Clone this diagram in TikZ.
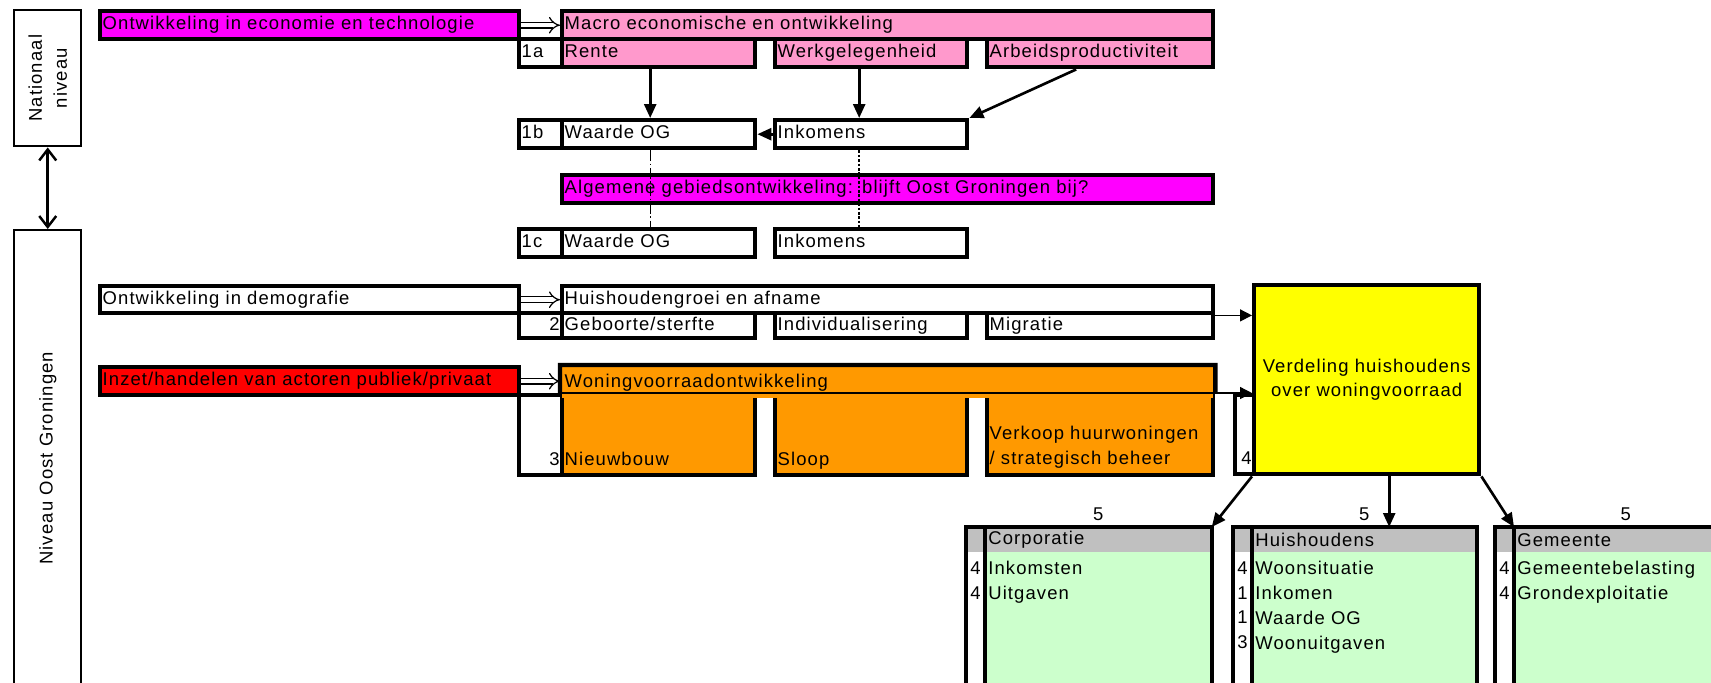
\documentclass[tikz,border=0pt]{standalone}
\usepackage{fontspec}
\setmainfont{Liberation Sans}[LetterSpace=6]
\usepackage{tikz}
\usetikzlibrary{arrows.meta}
\definecolor{mymagenta}{HTML}{FF00FF}
\definecolor{myroze}{HTML}{FF99CC}
\definecolor{myrood}{HTML}{FF0000}
\definecolor{myoranje}{HTML}{FF9900}
\definecolor{mygeel}{HTML}{FFFF00}
\definecolor{mygroen}{HTML}{CCFFCC}
\definecolor{mygrijs}{HTML}{C0C0C0}
\tikzset{
  cel/.style={draw, line width=2.5pt, anchor=north west, inner xsep=0.05cm, inner ysep=0pt, align=left, text height=0.27cm, text depth=0.08cm},
  geelvak/.style={draw, line width=2.5pt, anchor=north west, inner sep=0pt, align=center, fill=mygeel},
  zijkant/.style={draw, line width=1.4pt, anchor=north west, inner sep=0pt},
  groep/.style={anchor=north west, inner sep=0pt, minimum height=3.46cm},
  rand/.style={line width=2.5pt},
  lijst/.style={inner xsep=0.06cm, inner ysep=0.1cm},
  pijl/.style={line width=1.5pt, -{Triangle[length=0.28cm, width=0.24cm]}},
  pijldun/.style={line width=0.8pt, -{Triangle[length=0.24cm, width=0.24cm]}},
  holpijl/.style={double, double distance=2.6pt, line width=0.7pt, -{Implies}},
  dubbelpijl/.style={line width=1.4pt, {Straight Barb[length=0.22cm, width=0.34cm]}-{Straight Barb[length=0.22cm, width=0.34cm]}},
  streep/.style={line width=0.5pt, dash pattern=on 6pt off 1.5pt on 1pt off 1.5pt},
  stip/.style={line width=1.2pt, dash pattern=on 1.5pt off 1pt},
}
\begin{document}
\begin{tikzpicture}[font=\fontsize{10.5pt}{14.2pt}\selectfont]%
\useasboundingbox (0,0) rectangle (34.22,-13.64);%
\clip (0,0) rectangle (34.22,-13.64);%
\node[zijkant, minimum width=1.34cm, minimum height=2.72cm] (nat) at (0.26,-0.18) {};%
\node[rotate=90, align=center] (nattxt) at (nat.center) {Nationaal\\niveau};%
\node[zijkant, minimum width=1.34cm, minimum height=9.12cm] (oost) at (0.26,-4.58) {};%
\node[rotate=90] (oosttxt) at (oost.center) {Niveau Oost Groningen};%
\draw[dubbelpijl] (nat.south) -- (oost.north);%
\node[cel, fill=mymagenta, text width=8.28cm, minimum height=0.56cm] (eco) at (1.96,-0.18) {Ontwikkeling in economie en technologie};%
\node[cel, fill=myroze, text width=12.92cm, minimum height=0.56cm] (macro) at (11.20,-0.18) {Macro economische en ontwikkeling};%
\node[cel, text width=0.76cm, minimum height=0.56cm] (n1a) at (10.34,-0.74) {1a};%
\node[cel, fill=myroze, text width=3.76cm, minimum height=0.56cm] (rente) at (11.20,-0.74) {Rente};%
\node[cel, fill=myroze, text width=3.74cm, minimum height=0.56cm] (werk) at (15.46,-0.74) {Werkgelegenheid};%
\node[cel, fill=myroze, text width=4.42cm, minimum height=0.56cm] (arbeid) at (19.70,-0.74) {Arbeidsproductiviteit};%
\draw[holpijl] (eco.east) -- (macro.west);%
\node[cel, text width=0.76cm, minimum height=0.56cm] (n1b) at (10.34,-2.36) {1b};%
\node[cel, text width=3.76cm, minimum height=0.56cm] (wogb) at (11.20,-2.36) {Waarde OG};%
\node[cel, text width=3.74cm, minimum height=0.56cm] (inkb) at (15.46,-2.36) {Inkomens};%
\draw[pijl] ([xshift=-0.17cm]rente.south) -- ([xshift=-0.17cm]wogb.north);%
\draw[pijl] ([xshift=-0.24cm]werk.south) -- ([xshift=-0.24cm]inkb.north);%
\draw[pijl] ([xshift=-0.48cm]arbeid.south) -- (inkb.north east);%
\draw[pijl] (inkb.west) -- (wogb.east);%
\node[cel, fill=mymagenta, text width=12.92cm, minimum height=0.56cm] (alg) at (11.20,-3.46) {Algemene gebiedsontwikkeling: blijft Oost Groningen bij?};%
\node[cel, text width=0.76cm, minimum height=0.56cm] (n1c) at (10.34,-4.54) {1c};%
\node[cel, text width=3.76cm, minimum height=0.56cm] (wogc) at (11.20,-4.54) {Waarde OG};%
\node[cel, text width=3.74cm, minimum height=0.56cm] (inkc) at (15.46,-4.54) {Inkomens};%
\draw[streep] ([xshift=-0.17cm]wogb.south) -- ([xshift=-0.17cm]wogc.north);%
\draw[stip] ([xshift=-0.24cm]inkb.south) -- ([xshift=-0.24cm]inkc.north);%
\node[geelvak, minimum width=4.50cm, minimum height=3.78cm] (geel) at (25.04,-5.66) {Verdeling huishoudens\\over woningvoorraad};%
\node[cel, text width=8.28cm, minimum height=0.54cm] (demo) at (1.96,-5.68) {Ontwikkeling in demografie};%
\node[cel, text width=12.92cm, minimum height=0.54cm] (hhg) at (11.20,-5.68) {Huishoudengroei en afname};%
\node[cel, text width=0.76cm, minimum height=0.50cm, align=right] (n2) at (10.34,-6.22) {2};%
\node[cel, text width=3.76cm, minimum height=0.50cm] (geb) at (11.20,-6.22) {Geboorte/sterfte};%
\node[cel, text width=3.74cm, minimum height=0.50cm] (indiv) at (15.46,-6.22) {Individualisering};%
\node[cel, text width=4.42cm, minimum height=0.50cm] (migr) at (19.70,-6.22) {Migratie};%
\draw[holpijl] (demo.east) -- (hhg.west);%
\draw[pijldun] (hhg.south east) -- (hhg.south east -| geel.west);%
\node[cel, fill=myrood, text width=8.28cm, minimum height=0.56cm] (inzet) at (1.96,-7.30) {Inzet/handelen van actoren publiek/privaat};%
\node[cel, text width=0.76cm, align=right, text height=1.40cm, text depth=0.20cm] (n3) at (10.34,-7.86) {3};%
\node[cel, fill=myoranje, text width=3.76cm, text height=1.40cm, text depth=0.20cm] (nieuw) at (11.20,-7.86) {Nieuwbouw};%
\node[cel, fill=myoranje, text width=3.74cm, text height=1.40cm, text depth=0.20cm] (sloop) at (15.46,-7.86) {Sloop};%
\node[cel, fill=myoranje, text width=4.42cm, text height=0.88cm, text depth=0.72cm] (verkoop) at (19.70,-7.86) {Verkoop huurwoningen\\/ strategisch beheer};%
\node[cel, draw=none, fill=myoranje, text width=12.92cm, minimum height=0.61cm] (wov) at (11.20,-7.30) {Woningvoorraadontwikkeling};%
\draw[rand] (nieuw.north west) |- (wov.north east) -- (verkoop.north east);%
\draw[holpijl] (inzet.east) -- (inzet.east -| wov.west);%
\draw[pijldun] (nieuw.north west) -- (nieuw.north west -| geel.west);%
\node[cel, text width=0.28cm, align=right, text height=1.38cm, text depth=0.20cm] (n4) at (24.66,-7.86) {4};%
\node[groep, minimum width=4.90cm] (corp) at (19.32,-10.54) {};%
\fill[mygroen] ([xshift=0.38cm]corp.north west) rectangle (corp.south east);%
\fill[mygrijs] (corp.north west) rectangle ([yshift=-0.50cm]corp.north east);%
\draw[rand] (corp.south west) rectangle (corp.north east);%
\draw[rand] ([xshift=0.38cm]corp.north west) -- ([xshift=0.38cm]corp.south west);%
\node[lijst, anchor=west] (corpkop) at ([xshift=0.38cm,yshift=-0.26cm]corp.north west) {Corporatie};%
\node[lijst, anchor=north east, align=right] (corpnr) at ([xshift=0.36cm,yshift=-0.58cm]corp.north west) {4\\4};%
\node[lijst, anchor=north west, align=left] (corptxt) at ([xshift=0.38cm,yshift=-0.58cm]corp.north west) {Inkomsten\\Uitgaven};%
\node[lijst, above=0.02cm] (corp5) at ([xshift=0.19cm]corp.north) {5};%
\node[groep, minimum width=4.86cm] (huis) at (24.66,-10.54) {};%
\fill[mygroen] ([xshift=0.38cm]huis.north west) rectangle (huis.south east);%
\fill[mygrijs] (huis.north west) rectangle ([yshift=-0.50cm]huis.north east);%
\draw[rand] (huis.south west) rectangle (huis.north east);%
\draw[rand] ([xshift=0.38cm]huis.north west) -- ([xshift=0.38cm]huis.south west);%
\node[lijst, anchor=west] (huiskop) at ([xshift=0.38cm,yshift=-0.26cm]huis.north west) {Huishoudens};%
\node[lijst, anchor=north east, align=right] (huisnr) at ([xshift=0.36cm,yshift=-0.58cm]huis.north west) {4\\1\\1\\3};%
\node[lijst, anchor=north west, align=left] (huistxt) at ([xshift=0.38cm,yshift=-0.58cm]huis.north west) {Woonsituatie\\Inkomen\\Waarde OG\\Woonuitgaven};%
\node[lijst, above=0.02cm] (huis5) at ([xshift=0.19cm]huis.north) {5};%
\node[groep, minimum width=4.84cm] (gem) at (29.90,-10.54) {};%
\fill[mygroen] ([xshift=0.38cm]gem.north west) rectangle (gem.south east);%
\fill[mygrijs] (gem.north west) rectangle ([yshift=-0.50cm]gem.north east);%
\draw[rand] (gem.south west) rectangle (gem.north east);%
\draw[rand] ([xshift=0.38cm]gem.north west) -- ([xshift=0.38cm]gem.south west);%
\node[lijst, anchor=west] (gemkop) at ([xshift=0.38cm,yshift=-0.26cm]gem.north west) {Gemeente};%
\node[lijst, anchor=north east, align=right] (gemnr) at ([xshift=0.36cm,yshift=-0.58cm]gem.north west) {4\\4};%
\node[lijst, anchor=north west, align=left] (gemtxt) at ([xshift=0.38cm,yshift=-0.58cm]gem.north west) {Gemeentebelasting\\Grondexploitatie};%
\node[lijst, above=0.02cm] (gem5) at ([xshift=0.19cm]gem.north) {5};%
\draw[pijl] (geel.south west) -- (corp.north east);%
\draw[pijl] ([xshift=0.45cm]geel.south) -- ([xshift=0.45cm]geel.south |- huis.north);%
\draw[pijl] (geel.south east) -- ([xshift=0.38cm]gem.north west);%
\end{tikzpicture}%
\end{document}
